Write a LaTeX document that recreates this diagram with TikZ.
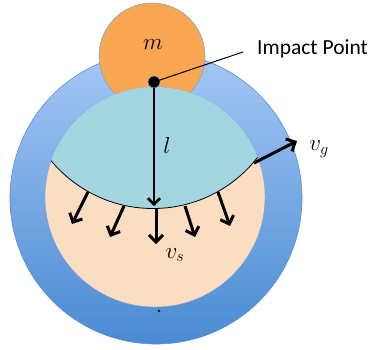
\documentclass[tikz,border=0pt]{standalone}
\usepackage{fix-cm}
\usepackage{fontspec}
\newfontfamily\calib{Carlito}
\usetikzlibrary{arrows.meta}
\definecolor{ringtop}{HTML}{A4C8F5}
\definecolor{ringbot}{HTML}{4A8AD3}
\definecolor{ringedge}{HTML}{5E8FCF}
\definecolor{massfill}{HTML}{F8A652}
\definecolor{peach}{HTML}{FBDDC1}
\definecolor{teal}{HTML}{A3D5E1}
\definecolor{thinedge}{HTML}{7FA6D8}
\tikzset{
  bigarrow/.style={line width=3pt,-{Straight Barb[length=7pt,width=14pt]}},
  lenarrow/.style={line width=1.1pt,-{Straight Barb[length=6pt,width=12pt,line width=2.6pt]}},
  mathlbl/.style={font=\fontsize{23}{26}\selectfont, inner sep=0pt}
}
\begin{document}
\begin{tikzpicture}[x=1pt,y=-1pt]
\useasboundingbox (0,0) rectangle (371,349);
% outer ring
\path[top color=ringtop,bottom color=ringbot,draw=ringedge,line width=0.6pt]
  (156,198) circle[radius=146];
% mass
\path[fill=massfill,draw=thinedge,line width=0.6pt] (152,56) circle[radius=53];
\node[mathlbl] (m) at (153,45) {$m$};
% inner peach disc
\path[fill=peach,draw=thinedge,line width=0.4pt] (155,197) circle[radius=110];
% teal region
\begin{scope}
  \clip (155,197) circle[radius=110];
  \fill[teal] (153,76) circle[radius=132.5];
  \draw[line width=0.8pt] (153,76) circle[radius=132.5];
\end{scope}
% impact point
\coordinate (ipc) at (154,82);
\node[circle,fill=black,draw=thinedge,line width=0.5pt,minimum size=12pt,inner sep=0pt] (ip) at (ipc) {};
\node[font=\calib\fontsize{21.5}{24}\selectfont,anchor=west,inner sep=0pt] (iptext) at (257,49) {Impact Point};
\coordinate (iplineend) at (243,52);
\draw[line width=1pt] (ip.center) -- (iplineend);
% length l
\coordinate (lend) at (154,206);
\draw[lenarrow] (ip.south) -- (lend);
\node[mathlbl] (l) at (167,146) {$l$};
% v_g
\coordinate (vg0) at (254,163);
\coordinate (vg1) at (297,141);
\draw[bigarrow] (vg0) -- (vg1);
\node[mathlbl] (vg) at (319,149) {$v_g$};
% v_s arrows
\coordinate (a1s) at (88,192); \coordinate (a1e) at (72,224);
\coordinate (a2s) at (124,206); \coordinate (a2e) at (110,237);
\coordinate (a3s) at (156,209); \coordinate (a3e) at (156,244);
\coordinate (a4s) at (185,206); \coordinate (a4e) at (195,237);
\coordinate (a5s) at (218,192); \coordinate (a5e) at (230,226);
\foreach \i in {1,...,5} {\draw[bigarrow] (a\i s) -- (a\i e);}
\node[mathlbl] (vs) at (175,255) {$v_s$};
% small dot
\fill (159,311) circle[radius=1.3];
\end{tikzpicture}
\end{document}
